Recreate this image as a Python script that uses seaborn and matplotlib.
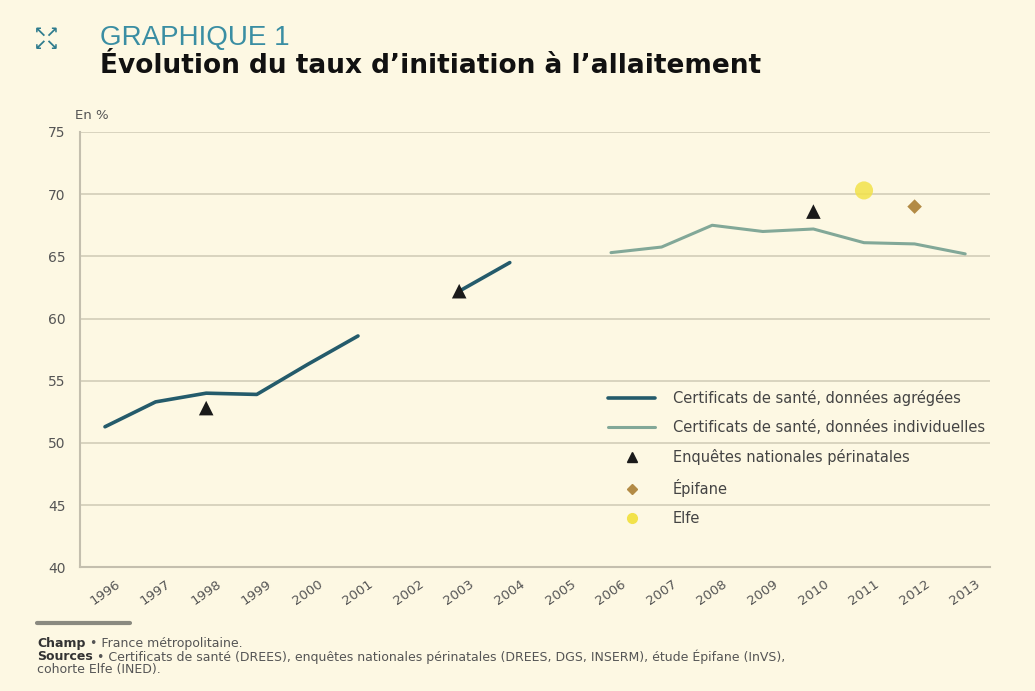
import numpy as np
import pandas as pd
import matplotlib.pyplot as plt
import seaborn as sns
from matplotlib.lines import Line2D

# data
years = list(range(1996, 2014))
agg_years_a = [1996, 1997, 1998, 1999, 2000, 2001]
agg_values_a = [51.3, 53.3, 54.0, 53.9, 56.3, 58.6]
agg_years_b = [2003, 2004]
agg_values_b = [62.2, 64.5]
ind_years = [2006, 2007, 2008, 2009, 2010, 2011, 2012, 2013]
ind_values = [65.3, 65.75, 67.5, 67.0, 67.2, 66.1, 66.0, 65.2]
enp_years = [1998, 2003, 2010]
enp_values = [52.8, 62.2, 68.6]
epifane_years = [2012]
epifane_values = [69.0]
elfe_years = [2011]
elfe_values = [70.3]

bg = '#fdf8e3'
c_agg = '#245b6b'
c_ind = '#82a898'
c_epi = '#b38b45'
c_elfe = '#f2e24a'
grey_txt = '#555555'

sns.set_theme(style="white")
plt.rcParams['font.family'] = ['DejaVu Sans']

fig = plt.figure(figsize=(10.35, 6.91), dpi=100, facecolor=bg)
ax = fig.add_axes([0.077, 0.179, 0.880, 0.630], facecolor=bg)

df_a = pd.DataFrame({'annee': agg_years_a, 'taux': agg_values_a})
df_b = pd.DataFrame({'annee': agg_years_b, 'taux': agg_values_b})
df_i = pd.DataFrame({'annee': ind_years, 'taux': ind_values})
sns.lineplot(data=df_a, x='annee', y='taux', color=c_agg, linewidth=2.6, ax=ax)
sns.lineplot(data=df_b, x='annee', y='taux', color=c_agg, linewidth=2.6, ax=ax)
sns.lineplot(data=df_i, x='annee', y='taux', color=c_ind, linewidth=2.2, ax=ax)

sns.scatterplot(x=enp_years, y=enp_values, marker='^', color='#1a1a1a', s=110,
                edgecolor='none', ax=ax, zorder=5)
sns.scatterplot(x=epifane_years, y=epifane_values, marker='D', color=c_epi, s=55,
                edgecolor='none', ax=ax, zorder=5)
sns.scatterplot(x=elfe_years, y=elfe_values, marker='o', color=c_elfe, s=170,
                edgecolor='none', alpha=0.85, ax=ax, zorder=5)

ax.set_xlim(1995.5, 2013.5)
ax.set_ylim(40, 75)
ax.set_yticks(range(40, 80, 5))
ax.set_xticks(years)
ax.set_xticklabels([str(y) for y in years], rotation=35, ha='center', fontsize=9.5, color=grey_txt)
ax.set_xticks(np.arange(1995.5, 2014.0, 1.0), minor=True)
ax.tick_params(axis='x', which='major', length=0, pad=7)
ax.tick_params(axis='x', which='minor', length=5, color='#aaa79a', width=1, direction='in')
ax.tick_params(axis='y', length=4, color='#aaa79a', labelsize=10, labelcolor=grey_txt, pad=6)
ax.grid(axis='y', color='#d9d3bf', linewidth=1.4)
ax.set_axisbelow(True)
ax.set_xlabel('')
ax.set_ylabel('')
for s in ['top', 'right']:
    ax.spines[s].set_visible(False)
for s in ['left', 'bottom']:
    ax.spines[s].set_color('#c4bfae')
    ax.spines[s].set_linewidth(1.5)

handles = [
    Line2D([], [], color=c_agg, lw=2.6),
    Line2D([], [], color=c_ind, lw=2.2),
    Line2D([], [], marker='^', color='#1a1a1a', ls='none', markersize=7),
    Line2D([], [], marker='D', color=c_epi, ls='none', markersize=5),
    Line2D([], [], marker='o', color=c_elfe, ls='none', markersize=7),
]
labels = ['Certificats de santé, données agrégées',
          'Certificats de santé, données individuelles',
          'Enquêtes nationales périnatales',
          'Épifane',
          'Elfe']
leg = ax.legend(handles, labels, loc='lower right', bbox_to_anchor=(1.008, 0.065),
                frameon=False, fontsize=10.5, labelspacing=0.95, handlelength=3.2,
                handletextpad=1.2)
for t in leg.get_texts():
    t.set_color('#444444')

ax.text(-0.005, 1.03, 'En %', transform=ax.transAxes, fontsize=9.5, color=grey_txt, ha='left')

# expand icon + titles
fig.text(0.045, 0.954, '↖↗', fontsize=11, color='#2f7c8e', ha='center', va='center',
         fontweight='bold')
fig.text(0.045, 0.934, '↙↘', fontsize=11, color='#2f7c8e', ha='center', va='center',
         fontweight='bold')
fig.text(0.097, 0.935, 'GRAPHIQUE 1', fontsize=20, color='#3a8ea3', ha='left', va='baseline',
         family=['Liberation Sans', 'DejaVu Sans'])
fig.text(0.097, 0.894, "Évolution du taux d’initiation à l’allaitement", fontsize=19,
         fontweight='bold', color='#111111', ha='left', va='baseline')

# footer
fig.add_artist(Line2D([0.036, 0.126], [0.099, 0.099], transform=fig.transFigure,
                      color='#8a8a80', lw=3))
renderer = fig.canvas.get_renderer()
fw = fig.bbox.width
x0 = 0.036


def note(y, bold, rest):
    t = fig.text(x0, y, bold, fontsize=9, fontweight='bold', color='#333333', va='center')
    w = t.get_window_extent(renderer).width / fw
    fig.text(x0 + w + 0.004, y, rest, fontsize=9, color=grey_txt, va='center')


note(0.069, 'Champ', '• France métropolitaine.')
note(0.050, 'Sources', '• Certificats de santé (DREES), enquêtes nationales périnatales '
     '(DREES, DGS, INSERM), étude Épifane (InVS),')
fig.text(x0, 0.031, 'cohorte Elfe (INED).', fontsize=9, color=grey_txt, va='center')

fig.savefig('out.png', dpi=100, facecolor=bg)
